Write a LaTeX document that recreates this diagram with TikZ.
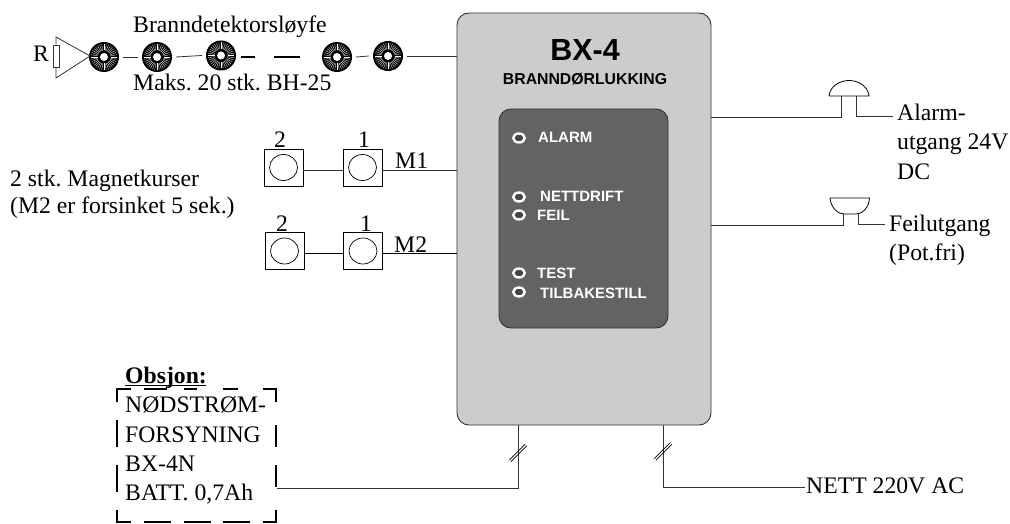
\documentclass[tikz,border=0pt]{standalone}
\usepackage{fontspec}
\setmainfont{Liberation Serif}
\newfontfamily\arial{Liberation Sans}
\usetikzlibrary{calc,shapes.geometric}
\definecolor{boxgray}{HTML}{CCCCCC}
\definecolor{panelgray}{HTML}{636363}
\frenchspacing
\tikzset{
  wire/.style={draw=black!80,line width=0.8pt},
  serif/.style={inner sep=0pt,anchor=base west,font=\fontsize{23.7}{24}\selectfont},
  panel/.style={inner sep=0pt,anchor=base west,text=white,font=\arial\bfseries\fontsize{15}{15}\selectfont},
  led/.style={ellipse,draw=white,line width=2.4pt,inner sep=0pt,minimum width=11.5pt,minimum height=9pt,fill=panelgray!70!black},
  magnetbox/.style={draw=black,line width=0.8pt,inner sep=0pt,minimum width=39pt,minimum height=37pt,fill=white},
  detector/.style={circle,fill=black,inner sep=0pt,minimum size=30pt,outer sep=4pt,
    path picture={
      \foreach \a in {0,10,...,350}{\draw[white,line width=0.32pt] (path picture bounding box.center)++(\a:6.5pt)--++(\a:6.5pt);}
      \fill[white] (path picture bounding box.center) circle (4pt);
    }},
  dashbox/.style={line width=2pt,draw=black},
}
\begin{document}
\begin{tikzpicture}[x=1pt,y=-1pt]
\useasboundingbox (0,0) rectangle (1010,524);
% main box
\node (main) [draw=black!80,line width=0.9pt,fill=boxgray,rounded corners=12pt,minimum width=254pt,minimum height=412pt,inner sep=0pt] at (584,219) {};
\node (pan) [draw=black!80,line width=0.9pt,fill=panelgray,rounded corners=12pt,minimum width=169pt,minimum height=219pt,inner sep=0pt] at (583.5,218.5) {};
\node (title) [inner sep=0pt,font=\arial\bfseries\fontsize{30.5}{30.5}\selectfont] at (585,50) {BX-4};
\node (sub) [inner sep=0pt,font=\arial\bfseries\fontsize{15.8}{15.8}\selectfont] at (585,79) {BRANNDØRLUKKING};
% panel
\node (l1) [led] at (519,138) {}; \node (t1) [panel] at (538,143) {ALARM};
\node (l2) [led] at (519,197) {}; \node (t2) [panel] at (540,202) {NETTDRIFT};
\node (l3) [led] at (519,215) {}; \node (t3) [panel] at (537,221) {FEIL};
\node (l4) [led] at (519,273) {}; \node (t4) [panel] at (537,278) {TEST};
\node (l5) [led] at (519,292) {}; \node (t5) [panel] at (540,298) {TILBAKESTILL};
% detector loop
\node (d1) [detector] at (104,57) {};
\node (d2) [detector] at (157,57) {};
\node (d3) [detector] at (221,55.5) {};
\node (d4) [detector] at (337,57) {};
\node (d5) [detector] at (388,56) {};
\draw[wire] (d1.east) -- (d2.west);
\draw[wire] (d2.east) -- (d3.west);
\draw[wire] (d4.east) -- (d5.west);
\draw[wire] (d5.east) -- (d5.east -| main.west);
\coordinate (da) at (241,57); \coordinate (db) at (255,57);
\coordinate (dc) at (274,57); \coordinate (dd) at (300,57);
\draw[line width=2pt] (da) -- (db);
\draw[line width=2pt] (dc) -- (dd);
\node (rlab) [serif] at (33,62) {R};
\node (res) [draw=black!80,line width=0.8pt,inner sep=0pt,minimum width=6pt,minimum height=22pt] at (56,56) {};
\coordinate (tipa) at (56,37); \coordinate (tipb) at (56,78); \coordinate (tip) at (90,56);
\draw[wire] (res.north) -- (tipa) -- (tip) -- (tipb) -- (res.south);
\node (lt) [serif] at (133,32.5) {Branndetektorsløyfe};
\node (lb) [serif] at (133,90.5) {Maks. 20 stk. BH-25};
% magnets
\foreach \n/\x/\y in {a/283.5/167.5,b/362.5/167.5,c/284.5/251,d/363/251}{
  \node (m\n) [magnetbox] at (\x,\y) {};
  \node (e\n) [draw=black,line width=0.7pt,ellipse,inner sep=0pt,minimum width=28pt,minimum height=26pt] at (\x,\y) {};
}
\draw[wire] (ma.east |- 0,170) -- (mb.west |- 0,170);
\draw[wire] (mb.east |- 0,170) -- (main.west |- 0,170);
\draw[line width=.8pt] (mc.east |- 0,253) -- (md.west |- 0,253);
\draw[line width=.8pt] (md.east |- 0,253) -- (main.west |- 0,253);
\node (n2a) [serif] at (274,148) {2};
\node (n1a) [serif] at (358,148) {1};
\node (n2b) [serif] at (276,232) {2};
\node (n1b) [serif] at (360,232) {1};
\node (m1) [serif] at (395,168) {M1};
\node (m2) [serif] at (394,252) {M2};
\node (mt1) [serif] at (10,186) {2 stk. Magnetkurser};
\node (mt2) [serif] at (10,213) {(M2 er forsinket 5 sek.)};
% alarm
\coordinate (aL) at (841,117); \coordinate (aT) at (841,96);
\coordinate (bT) at (856,96); \coordinate (bL) at (856,116); \coordinate (bR) at (893,116);
\draw[wire] (main.east |- aL) -- (aL) -- (aT);
\draw[wire] (bT) -- (bL) -- (bR);
\draw[draw=black,line width=.8pt] (829,96) -- (869,96) .. controls (868,86) and (858,80.5) .. (849,80.5) .. controls (840,80.5) and (830,86) .. (829,96);
\node (al1) [serif] at (897,121) {Alarm-};
\node (al2) [serif] at (897,150) {utgang 24V};
\node (al3) [serif] at (897,179) {DC};
% fault
\coordinate (cL) at (843.5,225); \coordinate (cT) at (843.5,214);
\coordinate (dT) at (858,214); \coordinate (dL) at (858,224); \coordinate (dR) at (885,224);
\draw[wire] (main.east |- cL) -- (cL) -- (cT);
\draw[wire] (dT) -- (dL) -- (dR);
\draw[draw=black,line width=.8pt] (830,198) -- (869.5,198) .. controls (869,208) and (862,214) .. (856,214) -- (844,214) .. controls (838,214) and (831,208) .. (830,198);
\node (fe1) [serif] at (889,232) {Feilutgang};
\node (fe2) [serif] at (889,260) {(Pot.fri)};
% option
\node (ob) [serif,font=\bfseries\fontsize{23.7}{24}\selectfont] at (125,383) {Obsjon:};
\draw[line width=.8pt] (125,385) -- (206,385);
\node (o1) [serif] at (125,412) {NØDSTRØM-};
\node (o2) [serif] at (125,442) {FORSYNING};
\node (o3) [serif] at (125,471) {BX-4N};
\node (o4) [serif] at (125,500) {BATT. 0,7Ah};
\coordinate (bat) at (277,488);
\coordinate (nA) at (518,488); \coordinate (nB) at (663,487); \coordinate (nC) at (805,487);
\draw[wire] (bat) -- (nA) -- (nA |- main.south);
\draw[wire] (nC) -- (nB) -- (nB |- main.south);
\foreach \c/\yy in {nA/453,nB/451.5}{
  \draw[line width=.6pt] ($(\c |- 0,\yy)+(-8,8)+(-.8,-.8)$) -- ++(16,-16);
  \draw[line width=.6pt] ($(\c |- 0,\yy)+(-8,8)+(.8,.8)$) -- ++(16,-16);
}
\node (nett) [serif] at (806,493) {NETT 220V AC};
% dashed outline
\draw[dashbox] (117,402) -- (117,389) -- (131,389);
\draw[dashbox] (276,402) -- (276,389) -- (263,389);
\draw[dashbox] (117,510) -- (117,522) -- (131,522);
\draw[dashbox] (276,510) -- (276,522) -- (263,522);
\draw[dashbox] (117,420) -- (117,447);
\draw[dashbox] (117,465) -- (117,492);
\draw[dashbox] (276,425) -- (276,447);
\draw[dashbox] (276,465) -- (276,487);
\foreach \a/\b in {144/171,184/211,223/250}{\draw[dashbox] (\a,522) -- (\b,522);}
\foreach \a/\b in {144/167,184/197,223/238}{\draw[dashbox] (\a,389) -- (\b,389);}
\end{tikzpicture}
\end{document}
